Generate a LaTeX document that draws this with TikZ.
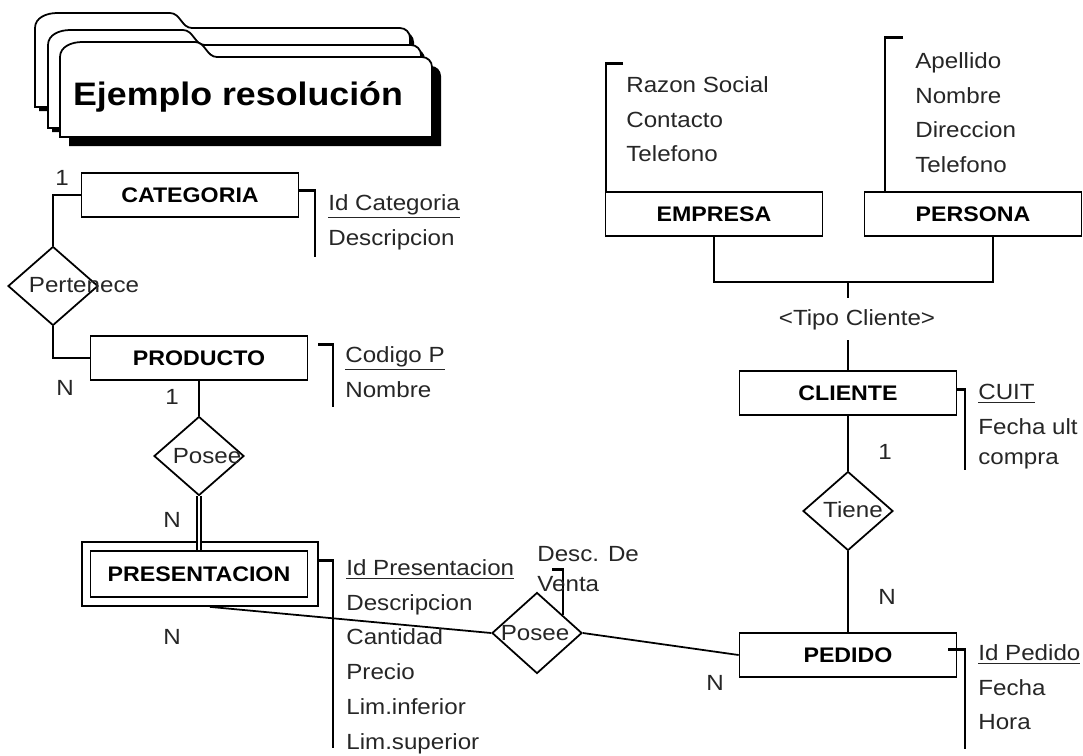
\documentclass[tikz,border=0pt]{standalone}
\usepackage{fontspec}
\setmainfont{Liberation Sans}[FakeStretch=1.1]
\usetikzlibrary{shapes.geometric}

\begin{document}
\begin{tikzpicture}[x=0.02cm, y=-0.02cm,
    myentity/.style={draw, line width=1pt, minimum width=4.34cm,
        minimum height=0.88cm, font=\bfseries\fontsize{12}{14}\selectfont},
    myrel/.style={shape=diamond, draw, line width=1pt, inner sep=0pt,
        minimum width=1.8cm, minimum height=1.58cm},
    mytext/.style={inner sep=0pt, text=black!85,
        font=\fontsize{12.5}{14}\selectfont},
    myattr/.style={inner sep=0pt, text=black!85, anchor=north west,
        align=left, font=\fontsize{12.5}{19.8}\selectfont},
    mybar/.style={line width=1.7pt},
    myline/.style={line width=1pt}
    ]
    \useasboundingbox (0,0) rectangle (1083,755);

    % title folders
    \foreach \l/\t/\r/\b/\s in {35/13/410/107/4, 48/30/421/128/4, 60/42/432/137/9} {
        \fill[black] ([shift={(\s,\s)}]\l,\b) -- ++(0,-\b+\t+15)
            to[out=90,in=180] ++(22,-15) -- (\l+135+\s,\t+\s)
            to[out=0,in=180] (\l+157+\s,\t+15+\s) -- (\r-10+\s,\t+15+\s)
            to[out=0,in=90] (\r+\s,\t+25+\s) -- (\r+\s,\b+\s) -- cycle;
        \filldraw[fill=white, myline] (\l,\b) -- (\l,\t+15)
            to[out=90,in=180] (\l+22,\t) -- (\l+135,\t)
            to[out=0,in=180] (\l+157,\t+15) -- (\r-10,\t+15)
            to[out=0,in=90] (\r,\t+25) -- (\r,\b) -- cycle;
    }
    \node[inner sep=0pt, font=\bfseries\fontsize{18.5}{22}\selectfont] (title)
        at (238,97) {Ejemplo resolución};

    % entities
    \node[myentity] (cat) at (190,195) {CATEGORIA};
    \node[myentity] (prod) at (199,358) {PRODUCTO};
    \node[draw, line width=1pt, minimum width=4.72cm, minimum height=1.28cm]
        (presout) at (200,574) {};
    \node[myentity, minimum height=0.92cm] (pres) at (199,574) {PRESENTACION};
    \node[myentity] (emp) at (714,214) {EMPRESA};
    \node[myentity] (per) at (973,214) {PERSONA};
    \node[myentity] (cli) at (848,393) {CLIENTE};
    \node[myentity] (ped) at (848,655) {PEDIDO};

    % relationships
    \node[myrel] (pert) at (53,286) {};
    \node[myrel] (pos1) at (199,456) {};
    \node[myrel, minimum height=1.62cm] (pos2) at (537,633) {};
    \node[myrel] (tiene) at (848,511) {};
    \node[mytext] (pertlbl) at (84,285) {Pertenece};
    \node[mytext] (pos1lbl) at (207,456) {Posee};
    \node[mytext] (pos2lbl) at (535,633) {Posee};
    \node[mytext] (tienelbl) at (853,510) {Tiene};
    \node[mytext] (tipo) at (857,320) {<Tipo Cliente>};

    % connectors
    \coordinate (jn) at (848,282);
    \coordinate (tt) at (848,298);
    \coordinate (tb) at (848,340);
    \draw[myline] (cat.west) -| (pert.north);
    \draw[myline] (pert.south) |- (prod.west);
    \draw[myline] (prod.south) -- (pos1.north);
    \draw[myline, double, double distance=1pt] (pos1.south) -- (pres.north);
    \draw[myline] ([xshift=0.2cm]presout.south) -- (pos2.west);
    \draw[myline] (pos2.east) -- (ped.west);
    \draw[myline] (ped.north) -- (tiene.south);
    \draw[myline] (tiene.north) -- (cli.south);
    \draw[myline] (cli.north) -- (tb);
    \draw[myline] (emp.south) |- (jn) -| ([xshift=0.4cm]per.south);
    \draw[myline] (jn) -- (tt);

    % cardinalities
    \foreach \c/\x/\y [count=\i] in
        {1/62/178, N/65/388, 1/172/397, N/172/520, N/172/637,
         N/715/683, 1/885/452, N/887/597}
        \node[mytext] (card\i) at (\x,\y) {\c};

    % attributes
    \draw[mybar] (298,190) -| (315,257);
    \node[myattr] (catattr) at (328,194) {\underline{Id Categoria}\\Descripcion};
    \draw[mybar] (318,344) -| (333,407);
    \node[myattr] (prodattr) at (345,346) {\underline{Codigo P}\\Nombre};
    \draw[mybar] (318,560) -| (333,748);
    \node[myattr] (presattr) at (346,559) {\underline{Id Presentacion}\\Descripcion\\
        Cantidad\\Precio\\Lim.inferior\\Lim.superior};
    \draw[mybar] (552,569) -| (563,615);
    \node[myattr] (ventaattr) at (537,546) {Desc. De\\[-2.8pt]Venta};
    \draw[mybar] (623,63) -| (606,192);
    \node[myattr] (empattr) at (626,76) {Razon Social\\Contacto\\Telefono};
    \draw[mybar] (903,37) -| (885,192);
    \node[myattr] (perattr) at (915,52) {Apellido\\Nombre\\Direccion\\Telefono};
    \draw[mybar] (957,389) -| (965,470);
    \node[myattr] (cliattr) at (978,384) {\underline{CUIT}\\Fecha ult\\[-2.8pt]compra};
    \draw[mybar] (948,649) -| (965,749);
    \node[myattr] (pedattr) at (978,644) {\underline{Id Pedido}\\Fecha\\Hora};
\end{tikzpicture}
\end{document}
